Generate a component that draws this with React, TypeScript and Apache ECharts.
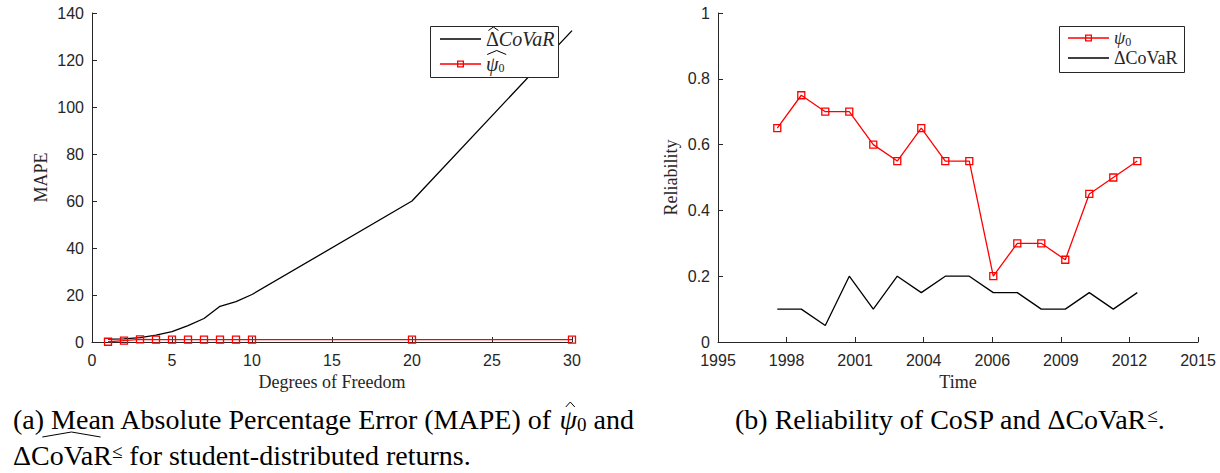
import React, { useEffect, useRef } from "react";
import * as echarts from "echarts";

// ---------- data: panel (a) ----------
const degreesOfFreedom = [1, 2, 3, 4, 5, 6, 7, 8, 9, 10, 20, 30];
const deltaCoVaRMape = [1.2, 1.3, 1.9, 2.9, 4.4, 7.0, 10.0, 15.2, 17.2, 20.2, 60.0, 132.5];
const psiMape = [0.1, 0.6, 1.1, 1.0, 1.0, 1.0, 1.0, 1.0, 1.0, 1.0, 1.0, 1.0];

// ---------- data: panel (b) ----------
const observationYears = [
  1997.47, 1998.47, 1999.47, 2000.47, 2001.47, 2002.47, 2003.47, 2004.47,
  2005.47, 2006.47, 2007.47, 2008.47, 2009.47, 2010.47, 2011.47, 2012.47,
];
const psiReliability = [0.65, 0.75, 0.7, 0.7, 0.6, 0.55, 0.65, 0.55, 0.55, 0.2, 0.3, 0.3, 0.25, 0.45, 0.5, 0.55];
const deltaCoVaRReliability = [0.1, 0.1, 0.05, 0.2, 0.1, 0.2, 0.15, 0.2, 0.2, 0.15, 0.15, 0.1, 0.1, 0.15, 0.1, 0.15];
const timeAxisStart = 1995;
const timeAxisEnd = 2015;
const timeTickLabels = ["1995", "1998", "2001", "2004", "2006", "2009", "2012", "2015"];

const AXIS = "#262626";
const SANS = "'Liberation Sans', Arial, Helvetica, sans-serif";
const SERIF = "'Liberation Serif', 'Times New Roman', serif";
const CAP_SIZE = 28;
const TICK_SIZE = 16;

const lineIcon = "path://M0 0H41V1.3H0Z";
const psiIcon = "path://M0 3.85H41V5.15H0Z M17 1H24V8H17Z M18.3 2.3V6.7H22.7V2.3Z";

const legendLabels: Record<string, string> = {
  dcovar_a: "{up|Δ}{it|CoVaR}",
  psi_a: "{it|ψ}{sub|0}",
  psi_b: "{it|ψ}{sub|0}",
  dcovar_b: "{up|ΔCoVaR}",
};

function richFor(size: number) {
  return {
    up: { fontFamily: SERIF, fontSize: size, color: "#262626", lineHeight: 20 },
    it: { fontFamily: SERIF, fontSize: size, fontStyle: "italic", color: "#262626", lineHeight: 20 },
    sub: { fontFamily: SERIF, fontSize: 12, color: "#262626", lineHeight: 12, verticalAlign: "bottom" },
  };
}

const capRich = {
  it: { fontFamily: SERIF, fontSize: CAP_SIZE, fontStyle: "italic", color: "#000" },
  sub: { fontFamily: SERIF, fontSize: 19, color: "#000", lineHeight: 19, verticalAlign: "bottom" },
  sup: { fontFamily: SERIF, fontSize: 19, color: "#000", lineHeight: 19, verticalAlign: "top" },
};

function measure(text: string, size: number, italic = false): number {
  const c = document.createElement("canvas");
  const ctx = c.getContext("2d");
  if (!ctx) return text.length * size * 0.5;
  ctx.font = `${italic ? "italic " : ""}${size}px 'Liberation Serif'`;
  return ctx.measureText(text).width;
}

function axisCommon(min: number, max: number, interval: number, name: string, gap: number) {
  return {
    type: "value" as const,
    min,
    max,
    interval,
    name,
    nameLocation: "middle" as const,
    nameGap: gap,
    nameTextStyle: { fontFamily: SERIF, fontSize: 18, color: AXIS },
    axisLine: { show: true, onZero: false, lineStyle: { color: AXIS, width: 1 } },
    axisTick: { show: true, inside: true, length: 5, lineStyle: { color: AXIS, width: 1 } },
    splitLine: { show: false },
  };
}

function hat(cx: number, half: number, yBase: number, yPeak: number, z = 20) {
  return {
    type: "polyline",
    z,
    shape: { points: [[cx - half, yBase], [cx, yPeak], [cx + half, yBase]] },
    style: { stroke: "#000", lineWidth: 1, fill: null },
  };
}

export default function App() {
  const ref = useRef<HTMLDivElement>(null);

  useEffect(() => {
    if (!ref.current) return;
    const chart = echarts.init(ref.current, undefined, { renderer: "svg" });

    const tickStep = (timeAxisEnd - timeAxisStart) / (timeTickLabels.length - 1);
    const toTimeUnits = (y: number) => (y - timeAxisStart) / tickStep;

    // caption geometry
    const capX = 13;
    const line1Y = 419.5;
    const line2Y = 455.5;
    const wDelta = measure("Δ", CAP_SIZE);
    const wCoVaR = measure("CoVaR", CAP_SIZE);
    const wPrefix = measure("(a) Mean Absolute Percentage Error (MAPE) of ", CAP_SIZE);
    const wPsiCap = measure("ψ", CAP_SIZE, true);

    // left legend text geometry
    const legTextX = 440 + 41 + 5;
    const wLegDelta = measure("Δ", 20);
    const wLegPsi = measure("ψ", 20, true);

    const option: any = {
      animation: false,
      backgroundColor: "#ffffff",
      grid: [
        { left: 92, top: 13, width: 480, height: 329, containLabel: false, outerBoundsMode: "none" },
        { left: 718, top: 13, width: 480, height: 329, containLabel: false, outerBoundsMode: "none" },
      ],
      xAxis: [
        {
          ...axisCommon(0, 30, 5, "Degrees of Freedom", 29),
          gridIndex: 0,
          axisLabel: { margin: 10, fontFamily: SANS, fontSize: TICK_SIZE, color: AXIS },
        },
        {
          ...axisCommon(0, timeTickLabels.length - 1, 1, "Time", 29),
          gridIndex: 1,
          axisLabel: {
            margin: 10,
            fontFamily: SANS,
            fontSize: TICK_SIZE,
            color: AXIS,
            formatter: (v: number) => timeTickLabels[Math.round(v)] ?? "",
          },
        },
      ],
      yAxis: [
        {
          ...axisCommon(0, 140, 20, "MAPE", 42),
          gridIndex: 0,
          axisLabel: { margin: 8, fontFamily: SANS, fontSize: TICK_SIZE, color: AXIS },
        },
        {
          ...axisCommon(0, 1, 0.2, "Reliability", 38),
          gridIndex: 1,
          axisLabel: { margin: 8, fontFamily: SANS, fontSize: TICK_SIZE, color: AXIS },
        },
      ],
      legend: [
        {
          data: [
            { name: "dcovar_a", icon: lineIcon, itemStyle: { color: "#000", borderWidth: 0 } },
            { name: "psi_a", icon: psiIcon, itemStyle: { color: "#ff0000", borderWidth: 0 } },
          ],
          orient: "vertical",
          left: 440,
          top: 29,
          padding: 0,
          itemGap: 5,
          itemWidth: 41,
          itemHeight: 9,
          backgroundColor: "transparent",
          borderWidth: 0,
          selectedMode: false,
          formatter: (n: string) => legendLabels[n],
          textStyle: { fontFamily: SERIF, fontSize: 20, color: "#262626", rich: richFor(20) },
          z: 10,
        },
        {
          data: [
            { name: "psi_b", icon: psiIcon, itemStyle: { color: "#ff0000", borderWidth: 0 } },
            { name: "dcovar_b", icon: lineIcon, itemStyle: { color: "#000", borderWidth: 0 } },
          ],
          orient: "vertical",
          left: 1068,
          top: 29,
          padding: 0,
          itemGap: 1,
          itemWidth: 41,
          itemHeight: 9,
          backgroundColor: "transparent",
          borderWidth: 0,
          selectedMode: false,
          formatter: (n: string) => legendLabels[n],
          textStyle: { fontFamily: SERIF, fontSize: 18, color: "#262626", rich: richFor(18) },
          z: 10,
        },
      ],
      series: [
        {
          type: "line",
          name: "dcovar_a",
          xAxisIndex: 0,
          yAxisIndex: 0,
          data: degreesOfFreedom.map((d, i) => [d, deltaCoVaRMape[i]]),
          symbol: "none",
          lineStyle: { color: "#000", width: 1.3 },
          itemStyle: { color: "#000" },
          z: 2,
        },
        {
          type: "line",
          name: "psi_a",
          xAxisIndex: 0,
          yAxisIndex: 0,
          data: degreesOfFreedom.map((d, i) => [d, psiMape[i]]),
          symbol: "rect",
          symbolSize: 7,
          lineStyle: { color: "#ff0000", width: 1.3 },
          itemStyle: { color: "rgba(255,255,255,0)", borderColor: "#ff0000", borderWidth: 1.3 },
          z: 3,
        },
        {
          type: "line",
          name: "psi_b",
          xAxisIndex: 1,
          yAxisIndex: 1,
          data: observationYears.map((y, i) => [toTimeUnits(y), psiReliability[i]]),
          symbol: "rect",
          symbolSize: 7,
          lineStyle: { color: "#ff0000", width: 1.3 },
          itemStyle: { color: "rgba(255,255,255,0)", borderColor: "#ff0000", borderWidth: 1.3 },
          z: 3,
        },
        {
          type: "line",
          name: "dcovar_b",
          xAxisIndex: 1,
          yAxisIndex: 1,
          data: observationYears.map((y, i) => [toTimeUnits(y), deltaCoVaRReliability[i]]),
          symbol: "none",
          lineStyle: { color: "#000", width: 1.3 },
          itemStyle: { color: "#000" },
          z: 2,
        },
      ],
      graphic: [
        // legend boxes (drawn above the series, below the legend items)
        {
          type: "rect",
          z: 5,
          shape: { x: 430.5, y: 26.5, width: 128, height: 51 },
          style: { fill: "#ffffff", stroke: "#262626", lineWidth: 1 },
        },
        {
          type: "rect",
          z: 5,
          shape: { x: 1059.5, y: 26.5, width: 125, height: 46 },
          style: { fill: "#ffffff", stroke: "#262626", lineWidth: 1 },
        },
        // legend accents
        hat(legTextX + wLegDelta / 2 + 1, 5, 30.5, 27),
        hat(legTextX + (wLegPsi + 7) / 2 + 1, 9.5, 54.5, 50.5),
        // captions
        {
          type: "text",
          x: capX,
          y: line1Y,
          style: {
            text: "(a) Mean Absolute Percentage Error (MAPE) of {it|ψ}{sub|0} and",
            fontFamily: SERIF,
            fontSize: CAP_SIZE,
            fill: "#000",
            verticalAlign: "middle",
            rich: capRich,
          },
        },
        hat(capX + wPrefix + wPsiCap / 2 + 2, 4.5, 407, 402),
        {
          type: "text",
          x: capX,
          y: line2Y,
          style: {
            text: "ΔCoVaR{sup|≤} for student-distributed returns.",
            fontFamily: SERIF,
            fontSize: CAP_SIZE,
            fill: "#000",
            verticalAlign: "middle",
            rich: capRich,
          },
        },
        hat(capX + wDelta + wCoVaR / 2, wCoVaR * 0.36, 437, 432),
        {
          type: "text",
          x: 735,
          y: line1Y,
          style: {
            text: "(b) Reliability of CoSP and ΔCoVaR{sup|≤}.",
            fontFamily: SERIF,
            fontSize: CAP_SIZE,
            fill: "#000",
            verticalAlign: "middle",
            rich: capRich,
          },
        },
      ],
    };

    chart.setOption(option);
    return () => chart.dispose();
  }, []);

  return (
    <div
      ref={ref}
      style={{ position: "absolute", left: 0, top: 0, width: 1220, height: 473, background: "#fff" }}
    />
  );
}
